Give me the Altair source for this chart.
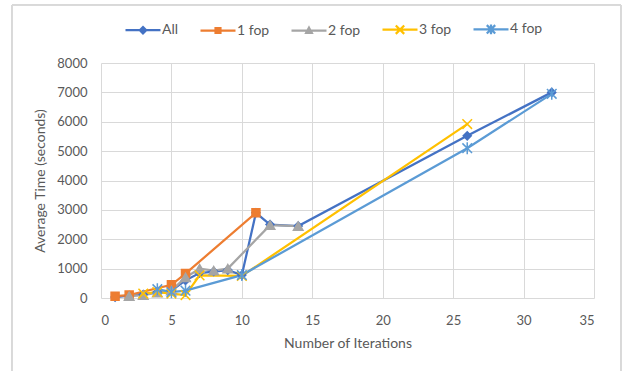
import altair as alt
import pandas as pd

# Series names and colours
series = ["All", "1 fop", "2 fop", "3 fop", "4 fop"]
colors = ["#4472C4", "#ED7D31", "#A5A5A5", "#FFC000", "#5B9BD5"]

# Iteration counts and average times (seconds) per series
all_iter = [1, 2, 3, 4, 5, 6, 7, 8, 9, 10, 11, 12, 14, 26, 32]
all_time = [30, 80, 120, 200, 250, 600, 850, 900, 950, 780, 2900, 2500, 2450, 5520, 7000]

fop1_iter = [1, 2, 5, 6, 11]
fop1_time = [60, 100, 450, 830, 2900]

fop2_iter = [2, 3, 4, 5, 6, 7, 8, 9, 12, 14]
fop2_time = [60, 100, 180, 250, 700, 1000, 930, 1000, 2480, 2450]

fop3_iter = [3, 4, 5, 6, 7, 10, 26]
fop3_time = [150, 200, 150, 100, 770, 750, 5920]

fop4_iter = [4, 5, 6, 10, 26, 32]
fop4_time = [300, 200, 250, 780, 5100, 6950]

x_ticks = [0, 5, 10, 15, 20, 25, 30, 35]
y_ticks = [0, 1000, 2000, 3000, 4000, 5000, 6000, 7000, 8000]

rows = []
for name, xs, ys in zip(
    series,
    [all_iter, fop1_iter, fop2_iter, fop3_iter, fop4_iter],
    [all_time, fop1_time, fop2_time, fop3_time, fop4_time],
):
    for x, y in zip(xs, ys):
        rows.append({"series": name, "iterations": x, "time": y})
df = pd.DataFrame(rows)

FONT = "Lato"
TXT = "#595959"
GRID = "#D9D9D9"

# Marker shapes drawn on the data points (unit = half the symbol width)
x_mark = "M-1.2,-1.2L1.2,1.2M-1.2,1.2L1.2,-1.2"
star_mark = "M-1.2,-1.2L1.2,1.2M-1.2,1.2L1.2,-1.2M0,-1.5L0,1.5"
point_shapes = ["diamond", "square", "triangle-up", x_mark, star_mark]
point_sizes = [64, 64, 90, 64, 64]

# Legend symbols: a line segment with the marker in its middle
legend_paths = [
    "M-1,0L1,0M0,-0.18L0.18,0L0,0.18L-0.18,0Z",
    "M-1,0L1,0M-0.14,-0.14L0.14,-0.14L0.14,0.14L-0.14,0.14Z",
    "M-1,0L1,0M0,-0.16L0.16,0.13L-0.16,0.13Z",
    "M-1,0L1,0M-0.24,-0.24L0.24,0.24M-0.24,0.24L0.24,-0.24",
    "M-1,0L1,0M-0.24,-0.24L0.24,0.24M-0.24,0.24L0.24,-0.24M0,-0.28L0,0.28",
]

color_scale = alt.Scale(domain=series, range=colors)

x_enc = alt.X(
    "iterations:Q",
    title="Number of Iterations",
    scale=alt.Scale(domain=[0, 35], nice=False),
    axis=alt.Axis(values=x_ticks, labelPadding=16, titlePadding=9),
)
y_enc = alt.Y(
    "time:Q",
    title="Average Time (seconds)",
    scale=alt.Scale(domain=[0, 8000], nice=False),
    axis=alt.Axis(values=y_ticks, format="d", labelPadding=14, titlePadding=9),
)

base = alt.Chart(df)


def legend_props():
    return alt.Legend(
        title=None,
        orient="none",
        direction="horizontal",
        legendX=23,
        legendY=-53,
        symbolSize=1225,
        symbolStrokeWidth=2.25,
        symbolOpacity=1,
        labelOffset=0,
        columnPadding=17,
        labelFont=FONT,
        labelFontSize=14,
        labelColor=TXT,
    )


# Legend-only layer (no marks drawn): entries come from the scale domains
legend_layer = (
    base.transform_filter("false")
    .mark_point(filled=True, opacity=1)
    .encode(
        x=x_enc,
        y=y_enc,
        color=alt.Color("series:N", scale=color_scale, legend=legend_props()),
        stroke=alt.Stroke("series:N", scale=alt.Scale(domain=series, range=colors), legend=legend_props()),
        shape=alt.Shape("series:N", scale=alt.Scale(domain=series, range=legend_paths), legend=legend_props()),
    )
)

lines = base.mark_line(strokeWidth=2.25).encode(
    x=x_enc,
    y=y_enc,
    color=alt.Color("series:N", scale=color_scale, sort=series),
    detail="series:N",
)

# One marker layer per series, each with its own symbol
marker_layers = []
for name, col, shp, sz in zip(series, colors, point_shapes, point_sizes):
    marker_layers.append(
        base.transform_filter(alt.datum.series == name)
        .mark_point(filled=True, size=sz, shape=shp, stroke=col, strokeWidth=1.5, opacity=1)
        .encode(
            x=x_enc,
            y=y_enc,
            color=alt.Color("series:N", scale=color_scale),
        )
    )

# Light frame around the whole chart
frame = base.mark_rect(fill=None, stroke=GRID, strokeWidth=1).encode(
    x=alt.value(-89), x2=alt.value(520), y=alt.value(-58), y2=alt.value(320)
)

chart = (
    alt.layer(legend_layer, frame, lines, *marker_layers)
    .properties(
        width=493,
        height=235,
        autosize=alt.AutoSizeParams(type="none"),
        padding={"left": 101, "top": 63, "right": 29, "bottom": 73},
    )
    .configure(background="white")
    .configure_view(stroke=None)
    .configure_axis(
        grid=True,
        gridColor=GRID,
        gridWidth=1,
        domain=False,
        ticks=False,
        labelFont=FONT,
        labelFontSize=13,
        labelColor=TXT,
        titleFont=FONT,
        titleFontSize=14,
        titleFontWeight="normal",
        titleColor=TXT,
    )
)

chart.save("out.html", embed_options={"renderer": "svg", "actions": False})
